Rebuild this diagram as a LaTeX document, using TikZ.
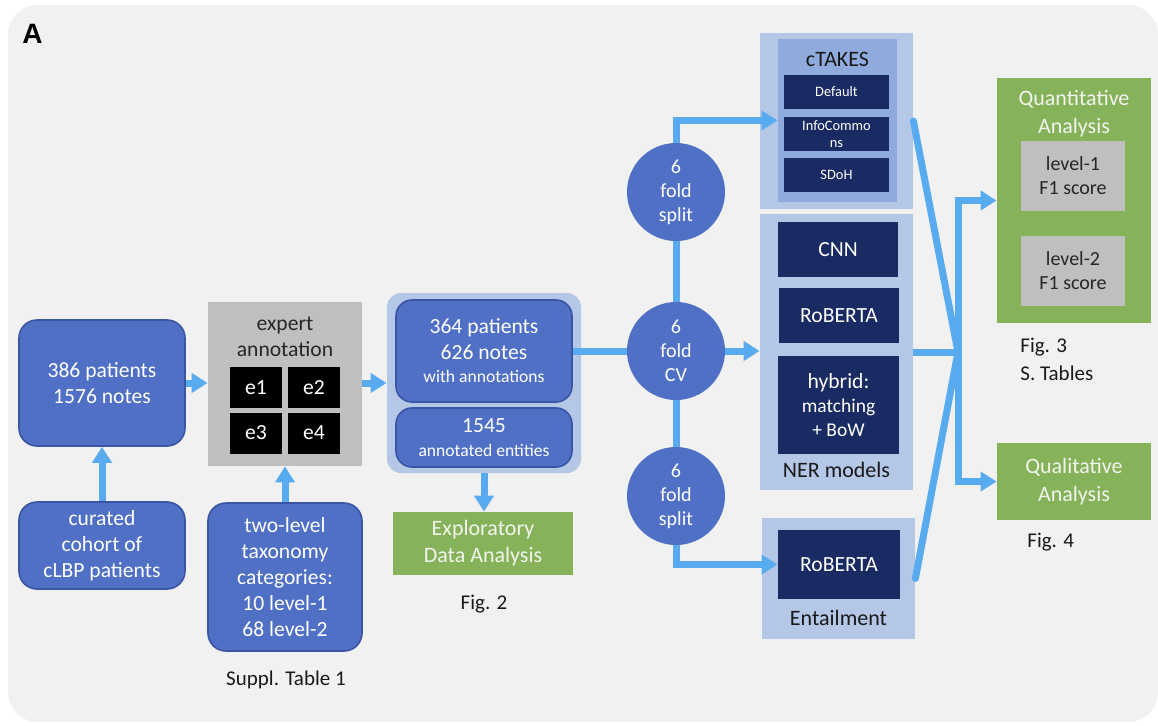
\documentclass[tikz,border=0pt]{standalone}
\usepackage{fontspec}
\setmainfont{Carlito}
\newfontfamily\arialfont{Liberation Sans}
\usetikzlibrary{arrows.meta}
\definecolor{bgc}{HTML}{F1F1F1}
\definecolor{bluenode}{HTML}{5070C6}
\definecolor{bluedark}{HTML}{3A55A3}
\definecolor{arrowc}{HTML}{58ABEE}
\definecolor{lightc}{HTML}{B4C7E7}
\definecolor{medc}{HTML}{8FAADC}
\definecolor{navyc}{HTML}{1A2A62}
\definecolor{greenc}{HTML}{86B25A}
\definecolor{grayc}{HTML}{BFBFBF}
\definecolor{greentext}{HTML}{F2F4EE}
\tikzset{
  mainfont/.style={font=\fontsize{10.8}{13}\selectfont},
  bluebox/.style={draw=bluedark, line width=0.8pt, fill=bluenode, rounded corners=9pt, text=white, align=center, inner sep=0pt, mainfont},
  foldc/.style={circle, fill=bluenode, minimum size=49pt, inner sep=0pt, text=white, align=center, font=\fontsize{10}{12}\selectfont},
  navybox/.style={fill=navyc, text=white, align=center, inner sep=0pt, mainfont},
  ebox/.style={fill=black, text=white, inner sep=0pt, minimum width=26pt, minimum height=20.5pt, mainfont},
  greenbox/.style={fill=greenc, text=greentext, align=center, inner sep=0pt, font=\fontsize{11}{14}\selectfont},
  graybox/.style={fill=grayc, text=black!85, align=center, inner sep=0pt, font=\fontsize{10}{12}\selectfont},
  lightbox/.style={fill=lightc, inner sep=0pt},
  caption/.style={text=black!90, align=left, font=\fontsize{10.5}{14}\selectfont},
  conn/.style={draw=arrowc, line width=3.5pt},
  arr/.style={conn, -{Triangle[length=8pt,width=9.5pt]}},
}
\begin{document}
\begin{tikzpicture}[x=0.5pt,y=-0.5pt]
\path[use as bounding box, fill=white] (0,0) rectangle (1158,725);
\fill[bgc, rounded corners=15pt] (8,5) rectangle (1158,722);
\node[font=\arialfont\bfseries\fontsize{14}{14}\selectfont, anchor=base west, inner sep=0pt] (lblA) at (22,43) {A};

% left column
\node[bluebox, minimum width=83pt, minimum height=63pt] (b386) at (102,383) {386 patients\\1576 notes};
\node[bluebox, minimum width=83pt, minimum height=43.5pt] (cohort) at (102,545.5) {curated\\cohort of\\cLBP patients};

% expert annotation
\node[fill=grayc, minimum width=77pt, minimum height=82pt, inner sep=0pt] (expert) at (285,384) {};
\node[mainfont, text=black!85, align=center, inner sep=0pt] (exptxt) at (285,337) {expert\\annotation};
\node[ebox] (e1) at (256,387.5) {e1};
\node[ebox] (e2) at (314,387.5) {e2};
\node[ebox] (e3) at (256,433) {e3};
\node[ebox] (e4) at (314,433) {e4};
\node[bluebox, minimum width=77pt, minimum height=74pt, font=\fontsize{10.8}{12.9}\selectfont] (tax) at (285,577) {two-level\\taxonomy\\categories:\\10 level-1\\68 level-2};
\node[caption] (cap1) at (286,680) {Suppl. Table 1};

% annotated data
\node[lightbox, rounded corners=7pt, minimum width=97pt, minimum height=90pt] (cont) at (484,383) {};
\node[bluebox, rounded corners=8pt, minimum width=88pt, minimum height=51pt] (in1) at (484,351) {364 patients\\626 notes\\[-1.5pt]{\fontsize{8.8}{10}\selectfont with annotations}};
\node[bluebox, rounded corners=8pt, minimum width=88pt, minimum height=29.5pt] (in2) at (484,437.5) {1545\\[-1pt]{\fontsize{8.8}{10}\selectfont annotated entities}};
\node[greenbox, minimum width=90pt, minimum height=31.5pt, font=\fontsize{11}{13.5}\selectfont] (eda) at (483,543.5) {Exploratory\\Data Analysis};
\node[caption] (cap2) at (484,604) {Fig. 2};

% folds
\node[foldc] (split1) at (676,192) {6\\fold\\split};
\node[foldc] (cv) at (676,351) {6\\fold\\CV};
\node[foldc] (split2) at (676,496) {6\\fold\\split};

% cTAKES
\node[lightbox, minimum width=76.5pt, minimum height=88pt] (ctout) at (836.5,121) {};
\node[fill=medc, inner sep=0pt, minimum width=59.5pt, minimum height=81.5pt] (ctin) at (837.5,120.5) {};
\node[text=black!90, inner sep=0pt, font=\fontsize{11}{13}\selectfont] (cttxt) at (837.5,59) {cTAKES};
\node[navybox, minimum width=52.5pt, minimum height=17pt, font=\fontsize{7.2}{8.5}\selectfont] (def) at (836.5,92) {Default};
\node[navybox, minimum width=52.5pt, minimum height=17pt, font=\fontsize{7.2}{8.5}\selectfont] (info) at (836.5,134) {InfoCommo\\ns};
\node[navybox, minimum width=52.5pt, minimum height=17pt, font=\fontsize{7.2}{8.5}\selectfont] (sdoh) at (836.5,175) {SDoH};

% NER models
\node[lightbox, minimum width=76.5pt, minimum height=138pt] (ner) at (836.5,352) {};
\node[navybox, minimum width=60pt, minimum height=27.5pt] (cnn) at (838,249.5) {CNN};
\node[navybox, minimum width=60pt, minimum height=27.5pt] (rob) at (839,315.5) {RoBERTA};
\node[navybox, minimum width=60.5pt, minimum height=49pt] (hyb) at (838.5,405) {hybrid:\\[-1pt]{\fontsize{9.75}{11}\selectfont matching}\\[-1pt]{\fontsize{9.75}{11}\selectfont + BoW}};
\node[inner sep=0pt, text=black!90, font=\fontsize{11}{13}\selectfont] (nertxt) at (836.5,470) {NER models};

% Entailment
\node[lightbox, minimum width=76.5pt, minimum height=60.5pt] (ent) at (838.5,578.5) {};
\node[navybox, minimum width=61pt, minimum height=34.5pt] (rob2) at (839,564.5) {RoBERTA};
\node[inner sep=0pt, text=black!90, font=\fontsize{11}{13}\selectfont] (enttxt) at (838.5,618) {Entailment};

% analyses
\node[fill=greenc, inner sep=0pt, minimum width=77pt, minimum height=122.5pt] (quant) at (1074,200.5) {};
\node[greenbox, fill=none] (quanttxt) at (1074,113.5) {Quantitative\\Analysis};
\node[graybox, minimum width=52pt, minimum height=35pt] (l1) at (1073,176) {level-1\\F1 score};
\node[graybox, minimum width=52pt, minimum height=35pt] (l2) at (1073,271) {level-2\\F1 score};
\node[caption, anchor=west, inner sep=0pt] (cap3) at (1020,359) {Fig. 3\\S. Tables};
\node[greenbox, minimum width=77pt, minimum height=38.5pt, font=\fontsize{11}{14}\selectfont] (qual) at (1074,481.5) {Qualitative\\Analysis};
\node[caption, anchor=west, inner sep=0pt] (cap4) at (1027,542) {Fig. 4};

\coordinate (conv) at (958,352);

% connectors
\draw[arr] (b386.east) -- (expert.west |- b386.east);
\draw[arr] (cohort.north) -- (b386.south);
\draw[arr] (tax.north) -- (expert.south);
\draw[arr] (expert.east |- b386.east) -- (cont.west |- b386.east);
\draw[arr] (cont.south) -- (cont.south |- eda.north);
\draw[conn] (in1.east) -- (cv.west);
\draw[conn] (split1.south) -- (cv.north);
\draw[conn] (cv.south) -- (split2.north);
\draw[arr] (cv.east) -- (ner.west |- cv.east);
\draw[arr] (split1.north) |- (ctin.west);
\draw[arr] (split2.south) |- (rob2.west);
\draw[conn, line cap=round] (ctout.east) -- (conv);
\draw[conn] (ner.east) -- (conv);
\draw[conn, line cap=round] (ent.east) -- (conv);
\draw[arr] (conv) |- (quant.west);
\draw[arr] (conv) |- (qual.west);
\end{tikzpicture}
\end{document}
